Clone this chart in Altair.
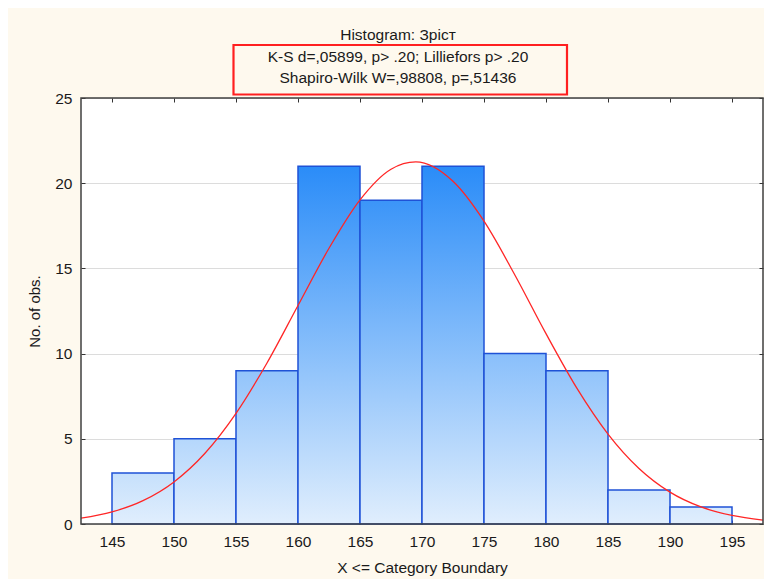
import altair as alt
import pandas as pd

# ---- data ----
edges = [145, 150, 155, 160, 165, 170, 175, 180, 185, 190, 195]
counts = [3, 5, 9, 21, 19, 21, 10, 9, 2, 1]

curve_x = [142.5, 145, 147.5, 150, 152.5, 155, 157.5, 160, 162.5, 165, 167.5,
           169.5, 172.5, 175, 177.5, 180, 182.5, 185, 187.5, 190, 192.5, 195, 197.5]
curve_y = [0.34, 0.71, 1.37, 2.47, 4.15, 6.49, 9.45, 12.82, 16.18, 19.02, 20.82,
           21.25, 20.11, 17.77, 14.60, 11.17, 7.96, 5.28, 3.26, 1.87, 1.00, 0.50, 0.23]

title_lines = ["Histogram: Зріст",
               "K-S d=,05899, p> .20; Lilliefors p> .20",
               "Shapiro-Wilk W=,98808, p=,51436"]

x_domain = [142.5, 197.5]
y_domain = [0, 25]
y_ticks = [0, 5, 10, 15, 20, 25]

FONT = "Liberation Sans"
TXT = "#1a1a1a"

bars = pd.DataFrame({"lo": edges[:-1], "hi": edges[1:], "count": counts})
curve = pd.DataFrame({"x": curve_x, "y": curve_y})

xs = alt.Scale(domain=x_domain, nice=False, zero=False)
ys = alt.Scale(domain=y_domain, nice=False)

x_axis = alt.Axis(values=edges, format="d", offset=-4, domain=False, tickSize=4,
                  tickColor="#333333", labelPadding=10, labelFontSize=15.5,
                  labelColor=TXT, labelFont=FONT, labelFlush=False,
                  title="X <= Category Boundary", titleFont=FONT, titleFontSize=15.5,
                  titleFontWeight="normal", titleColor=TXT, titlePadding=11, grid=False)
y_axis = alt.Axis(values=y_ticks, offset=-4, domain=False, tickSize=4,
                  tickColor="#333333", labelPadding=9, labelFontSize=15.5,
                  labelColor=TXT, labelFont=FONT, grid=True, gridColor="#DCDCDC",
                  title="No. of obs.", titleFont=FONT, titleFontSize=15,
                  titleFontWeight="normal", titleColor=TXT, titlePadding=12)

top_c = (42, 140, 248)
bot_c = (224, 238, 253)
cmax = max(counts)


def mix(t):
    return "#%02x%02x%02x" % tuple(int(round(b + (a - b) * t)) for a, b in zip(top_c, bot_c))


layers = []
for lo, c in zip(edges[:-1], counts):
    grad = alt.LinearGradient(
        gradient="linear", x1=0, x2=0, y1=0, y2=1,
        stops=[alt.GradientStop(offset=0, color=mix(c / cmax)),
               alt.GradientStop(offset=1, color=mix(0))])
    layers.append(
        alt.Chart(bars).transform_filter(alt.datum.lo == lo)
        .mark_bar(fill=grad, stroke="#1f52d6", strokeWidth=1.5)
        .encode(x=alt.X("lo:Q", scale=xs, axis=x_axis), x2="hi:Q",
                y=alt.Y("count:Q", scale=ys, axis=y_axis), y2=alt.datum(0))
    )

line = alt.Chart(curve).mark_line(color="#ff2626", strokeWidth=1.3,
                                  interpolate="monotone").encode(
    x=alt.X("x:Q", scale=xs, axis=x_axis), y=alt.Y("y:Q", scale=ys, axis=y_axis))

one = pd.DataFrame({"k": [0]})
frame = alt.Chart(one).mark_rect(filled=False, stroke="#404040", strokeWidth=1.5).encode(
    x=alt.datum(x_domain[0], scale=xs, axis=x_axis), x2=alt.datum(x_domain[1]),
    y=alt.datum(y_domain[0], scale=ys, axis=y_axis), y2=alt.datum(y_domain[1]))

texts = []
for i, t in enumerate(title_lines):
    texts.append(alt.Chart(one).mark_text(text=t, font=FONT, fontSize=15.5, color=TXT,
                                          align="center", baseline="alphabetic").encode(
        x=alt.value(317), y=alt.value(-58 + 21.7 * i)))

box = alt.Chart(one).mark_rect(filled=False, stroke="#ff2020", strokeWidth=2.2).encode(
    x=alt.value(152.5), x2=alt.value(486), y=alt.value(-53), y2=alt.value(-3.5))

main = alt.layer(*layers, line, frame, *texts, box)

ticks = alt.Chart(curve).mark_point(opacity=0).encode(
    x=alt.X("x:Q", scale=xs, axis=alt.Axis(orient="top", values=edges, offset=-4,
                                           domain=False, tickSize=4, tickColor="#333333",
                                           labels=False, title=None, grid=False)),
    y=alt.Y("y:Q", scale=ys, axis=alt.Axis(orient="right", values=y_ticks, offset=-4,
                                           domain=False, tickSize=4, tickColor="#333333",
                                           labels=False, title=None, grid=False)))

chart = alt.layer(main, ticks).resolve_axis(x="independent", y="independent").properties(
    width=682, height=426,
    autosize=alt.AutoSizeParams(type="none"),
    padding={"left": 73, "top": 90, "right": 1, "bottom": 55},
    background="#fef9ee",
).configure_view(fill="white", stroke=None)

chart.save("out.html", embed_options={"renderer": "svg", "actions": False})
